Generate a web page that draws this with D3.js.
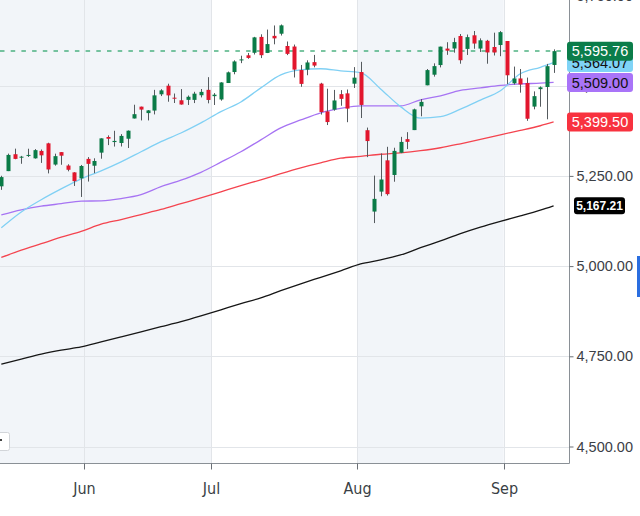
<!DOCTYPE html>
<html><head><meta charset="utf-8">
<script src="https://cdn.jsdelivr.net/npm/d3@7"></script>
<style>
html,body{margin:0;padding:0;background:#fff;}
svg{display:block;}
</style></head><body>
<svg id="chart" width="640" height="516"></svg>
<script>
// ---- data ----
const dates = ["2024-05-14","2024-05-15","2024-05-16","2024-05-17","2024-05-20","2024-05-21","2024-05-22","2024-05-23","2024-05-24","2024-05-28","2024-05-29","2024-05-30","2024-05-31",
"2024-06-03","2024-06-04","2024-06-05","2024-06-06","2024-06-07","2024-06-10","2024-06-11","2024-06-12","2024-06-13","2024-06-14","2024-06-17","2024-06-18","2024-06-20","2024-06-21","2024-06-24","2024-06-25","2024-06-26","2024-06-27","2024-06-28",
"2024-07-01","2024-07-02","2024-07-03","2024-07-05","2024-07-08","2024-07-09","2024-07-10","2024-07-11","2024-07-12","2024-07-15","2024-07-16","2024-07-17","2024-07-18","2024-07-19","2024-07-22","2024-07-23","2024-07-24","2024-07-25","2024-07-26","2024-07-29","2024-07-30","2024-07-31",
"2024-08-01","2024-08-02","2024-08-05","2024-08-06","2024-08-07","2024-08-08","2024-08-09","2024-08-12","2024-08-13","2024-08-14","2024-08-15","2024-08-16","2024-08-19","2024-08-20","2024-08-21","2024-08-22","2024-08-23","2024-08-26","2024-08-27","2024-08-28","2024-08-29","2024-08-30",
"2024-09-03","2024-09-04","2024-09-05","2024-09-06","2024-09-09","2024-09-10","2024-09-11","2024-09-12"];
const open = [5221.10,5263.26,5310.07,5303.10,5305.35,5298.69,5319.28,5340.26,5281.45,5315.91,5278.73,5259.77,5243.21,
5297.15,5278.24,5314.48,5357.80,5343.81,5341.22,5353.00,5409.13,5441.93,5424.08,5431.11,5476.15,5499.99,5466.77,5459.58,5460.73,5460.71,5473.59,5488.48,
5471.08,5461.84,5507.44,5537.91,5572.75,5584.24,5591.26,5635.21,5590.76,5638.16,5644.09,5610.07,5608.56,5543.37,5544.54,5565.30,5505.84,5428.70,5433.67,5476.55,5478.73,5505.59,
5537.84,5376.63,5151.14,5206.42,5293.13,5252.57,5314.22,5351.88,5376.98,5442.79,5501.13,5530.50,5557.23,5602.88,5603.09,5637.77,5602.00,5639.66,5602.89,5624.51,5607.30,5612.74,
5623.89,5506.68,5520.08,5507.33,5442.07,5490.51,5496.42,5557.48];
const high = [5250.37,5311.76,5325.49,5305.45,5325.32,5324.32,5323.18,5341.88,5311.65,5315.91,5282.27,5260.21,5280.33,
5302.11,5298.80,5354.16,5362.35,5375.08,5365.79,5375.95,5447.25,5441.93,5432.39,5488.50,5490.38,5505.53,5478.31,5490.66,5472.88,5483.14,5490.81,5523.64,
5479.55,5509.69,5539.27,5570.33,5583.11,5590.75,5635.39,5642.45,5655.56,5666.94,5669.67,5622.49,5614.05,5557.50,5570.36,5585.34,5508.04,5491.59,5488.32,5487.74,5489.46,5551.51,
5566.16,5383.89,5250.89,5312.34,5330.64,5328.03,5358.24,5371.20,5436.50,5463.22,5546.23,5561.98,5608.30,5620.51,5632.68,5643.22,5641.82,5651.62,5631.18,5627.03,5646.95,5651.37,
5623.89,5552.99,5546.30,5522.47,5484.20,5497.91,5560.41,5600.71];
const low = [5211.34,5263.26,5296.19,5283.59,5302.40,5297.87,5286.01,5256.93,5278.39,5280.89,5262.70,5222.10,5191.68,
5234.32,5257.63,5297.64,5335.36,5331.33,5331.52,5327.25,5409.13,5403.75,5403.75,5420.40,5471.32,5455.56,5452.03,5447.59,5446.56,5451.87,5467.54,5451.12,
5446.53,5458.43,5507.42,5531.63,5562.51,5574.57,5586.44,5576.53,5590.44,5614.75,5639.02,5584.81,5522.81,5497.04,5529.04,5550.90,5419.98,5390.95,5430.70,5444.44,5398.85,5493.75,
5410.42,5302.03,5119.26,5193.56,5195.54,5233.85,5313.06,5324.37,5376.98,5415.24,5501.13,5525.17,5550.74,5585.50,5591.57,5560.95,5585.16,5602.34,5593.48,5560.95,5583.71,5581.79,
5504.33,5503.41,5480.69,5402.62,5434.49,5441.72,5406.96,5535.50];
const close = [5246.68,5308.15,5297.10,5303.27,5308.13,5321.41,5307.01,5267.84,5304.72,5306.04,5266.95,5235.48,5277.51,
5283.40,5291.34,5354.03,5352.96,5346.99,5360.79,5375.32,5421.03,5433.74,5431.60,5473.23,5487.03,5473.17,5464.62,5447.87,5469.30,5477.90,5482.87,5460.48,
5475.09,5509.01,5537.02,5567.19,5572.85,5576.98,5633.91,5584.54,5615.35,5631.22,5667.20,5588.27,5544.59,5505.00,5564.41,5555.74,5427.13,5399.22,5459.10,5463.54,5436.44,5522.30,
5446.68,5346.56,5186.33,5240.03,5199.50,5319.31,5344.16,5344.39,5434.43,5455.21,5543.22,5554.25,5608.25,5597.12,5620.85,5570.64,5634.61,5616.84,5625.80,5592.18,5591.96,5648.40,
5528.93,5520.07,5503.41,5408.42,5471.05,5495.52,5554.13,5595.76];

// moving averages at sample dates
const maDates = ["2024-05-14","2024-05-17","2024-05-22","2024-05-28","2024-05-31","2024-06-05","2024-06-10","2024-06-13","2024-06-18","2024-06-24","2024-06-27",
"2024-07-02","2024-07-08","2024-07-11","2024-07-16","2024-07-19","2024-07-24","2024-07-29","2024-08-01","2024-08-06","2024-08-09","2024-08-14","2024-08-19",
"2024-08-22","2024-08-27","2024-08-30","2024-09-05","2024-09-10","2024-09-12"];
const sma20  = [5106,5150,5184,5214,5242,5264,5289,5317,5345,5369,5397,5428,5455,5494,5530,5544,5547,5541,5536,5491,5442,5410,5414,5435,5460,5486,5533,5551,5564.07];
const sma50  = [5142,5156,5166,5173,5180,5181,5187,5198,5220,5238,5260,5288,5317,5350,5383,5405,5425,5437,5444,5444,5444,5461,5472,5487,5494,5501,5505,5507,5509.00];
const sma100 = [5024,5044,5062,5080,5096,5116,5129,5143,5157,5173,5189,5206,5223,5239,5256,5272,5286,5299,5304,5310,5314,5320,5328,5339,5351,5364,5376,5389,5399.50];
const sma200 = [4728,4742,4756,4767,4776,4790,4804,4818,4832,4846,4862,4879,4896,4912,4932,4951,4969,4987,5006,5017,5031,5051,5070,5090,5108,5124,5139,5155,5167.21];

const yTicks = [4500,4750,5000,5250,5500,5750];
const monthStarts = ["2024-06-03","2024-07-01","2024-08-01","2024-09-03"];
const monthLabels = ["Jun","Jul","Aug","Sep"];
const shadedBands = [["2024-05-14","2024-07-01"],["2024-08-01","2024-09-03"]];

// ---- layout ----
const plotRight = 569, plotBottom = 463;
const svg = d3.select("#chart");
const x = d3.scalePoint().domain(dates).range([1.3, 553.6]);
const step = x.step();
const y = d3.scaleLinear().domain([4500, 5750]).range([446.5, -4.5]);
const bx = d => x(d) - step / 2; // boundary before a trading day

svg.append("defs").append("clipPath").attr("id","plot")
  .append("rect").attr("x",0).attr("y",0).attr("width",plotRight).attr("height",plotBottom);

const plot = svg.append("g").attr("clip-path","url(#plot)");

// shaded month bands
plot.selectAll("rect.band").data(shadedBands).join("rect")
  .attr("x", d => bx(d[0])).attr("y", 0)
  .attr("width", d => bx(d[1]) - bx(d[0])).attr("height", plotBottom)
  .attr("fill", "#f2f5f9");

// grid lines
plot.selectAll("line.hg").data(yTicks).join("line")
  .attr("x1",0).attr("x2",plotRight)
  .attr("y1", d => Math.round(y(d)) + 0.5).attr("y2", d => Math.round(y(d)) + 0.5)
  .attr("stroke","#e2e5e9").attr("stroke-width",1);
plot.selectAll("line.vg").data(monthStarts).join("line")
  .attr("x1", d => Math.round(bx(d)) + 0.5).attr("x2", d => Math.round(bx(d)) + 0.5)
  .attr("y1",0).attr("y2",plotBottom)
  .attr("stroke","#e2e5e9").attr("stroke-width",1);

// last price dashed line
const last = close[close.length - 1];
plot.append("line")
  .attr("x1",0).attr("x2",plotRight)
  .attr("y1", Math.round(y(last))).attr("y2", Math.round(y(last)))
  .attr("stroke","#2fa56c").attr("stroke-opacity",0.85).attr("stroke-width",1.6).attr("stroke-dasharray","4.5,6.2");

// moving averages
const maLine = vals => d3.line()
  .x((d,i) => x(maDates[i])).y(d => y(d)).curve(d3.curveMonotoneX)(vals);
const maSpecs = [
  {vals: sma200, color: "#161616"},
  {vals: sma100, color: "#f4444f"},
  {vals: sma50,  color: "#a774f3"},
  {vals: sma20,  color: "#80d0f4"}
];
maSpecs.forEach(s => {
  plot.append("path").attr("d", maLine(s.vals))
    .attr("fill","none").attr("stroke", s.color).attr("stroke-width",1.3);
});

// candles
const cg = plot.append("g");
dates.forEach((d,i) => {
  const cx = Math.round(x(d));
  const up = close[i] >= open[i];
  cg.append("line")
    .attr("x1", cx + 0.5).attr("x2", cx + 0.5)
    .attr("y1", y(high[i])).attr("y2", y(low[i]))
    .attr("stroke","#555a5e").attr("stroke-width",1);
  const top = y(Math.max(open[i], close[i]));
  const bot = y(Math.min(open[i], close[i]));
  cg.append("rect")
    .attr("x", cx - 1.5).attr("width", 4)
    .attr("y", top).attr("height", Math.max(1, bot - top))
    .attr("fill", up ? "#0a7b47" : "#e2162d");
});

// right axis
svg.append("line").attr("x1",plotRight+0.5).attr("x2",plotRight+0.5)
  .attr("y1",0).attr("y2",plotBottom+0.5).attr("stroke","#8a9096").attr("stroke-width",1);
svg.append("line").attr("x1",0).attr("x2",plotRight+0.5)
  .attr("y1",plotBottom+0.5).attr("y2",plotBottom+0.5).attr("stroke","#8a9096").attr("stroke-width",1);

const yAxisG = svg.append("g").attr("transform",`translate(${plotRight+0.5},0)`)
  .call(d3.axisRight(y).tickValues(yTicks).tickFormat(d3.format(",.2f")).tickSize(4).tickPadding(3));
yAxisG.select(".domain").remove();
yAxisG.selectAll(".tick line").attr("stroke","#6a6f75");
yAxisG.selectAll(".tick text").attr("fill","#3c4046")
  .style("font-family","'Liberation Sans', Arial, sans-serif").style("font-size","14.5px");

// bottom axis
const xAxisG = svg.append("g").attr("transform",`translate(0,${plotBottom+0.5})`)
  .call(d3.axisBottom(x).tickValues(monthStarts).tickFormat((d,i) => monthLabels[i]).tickSize(6).tickPadding(13));
xAxisG.select(".domain").remove();
xAxisG.selectAll(".tick").attr("transform", d => `translate(${Math.round(bx(d)) + 0.5},0)`);
xAxisG.selectAll(".tick line").attr("stroke","#6a6f75");
xAxisG.selectAll(".tick text").attr("fill","#3a3f45")
  .style("font-family","'Liberation Sans Narrow', 'DejaVu Sans Condensed', 'Arial Narrow', sans-serif")
  .style("font-size","16px");

// value badges
const badges = [
  {v: sma20[sma20.length-1],  bg:"#7fd3f6", fg:"#111", w:66, x:567, h:19, fs:"14.5px", fw:"normal"},
  {v: last,                   bg:"#0b7d4a", fg:"#fff", w:66, x:567, h:19, fs:"14.5px", fw:"normal"},
  {v: sma50[sma50.length-1],  bg:"#a974f8", fg:"#111", w:66, x:567, h:19, fs:"14.5px", fw:"normal"},
  {v: sma100[sma100.length-1],bg:"#f8323f", fg:"#fff", w:66, x:567, h:19, fs:"14.5px", fw:"normal"},
  {v: sma200[sma200.length-1],bg:"#000000", fg:"#fff", w:51, x:574, h:17, fs:"12px",  fw:"bold"}
];
const fmt = d3.format(",.2f");
badges.forEach(b => {
  const cy = y(b.v);
  const g = svg.append("g");
  g.append("rect").attr("x", b.x).attr("y", cy - b.h/2).attr("width", b.w).attr("height", b.h)
    .attr("rx", 3).attr("fill", b.bg);
  g.append("text").attr("x", b.x + b.w/2).attr("y", cy).attr("dy","0.35em")
    .attr("text-anchor","middle").attr("fill", b.fg)
    .style("font-family","'Liberation Sans', Arial, sans-serif")
    .style("font-size", b.fs).style("font-weight", b.fw)
    .text(fmt(b.v));
});

// small widget at bottom-left and scroll indicator on right
svg.append("rect").attr("x",-6.5).attr("y",432.5).attr("width",16).attr("height",18).attr("rx",2)
  .attr("fill","#fff").attr("stroke","#d2d5d9");
svg.append("rect").attr("x",0).attr("y",439).attr("width",2).attr("height",2).attr("fill","#444");
svg.append("rect").attr("x",637).attr("y",256).attr("width",3).attr("height",41).attr("fill","#2a6ee0");
</script>
</body></html>
